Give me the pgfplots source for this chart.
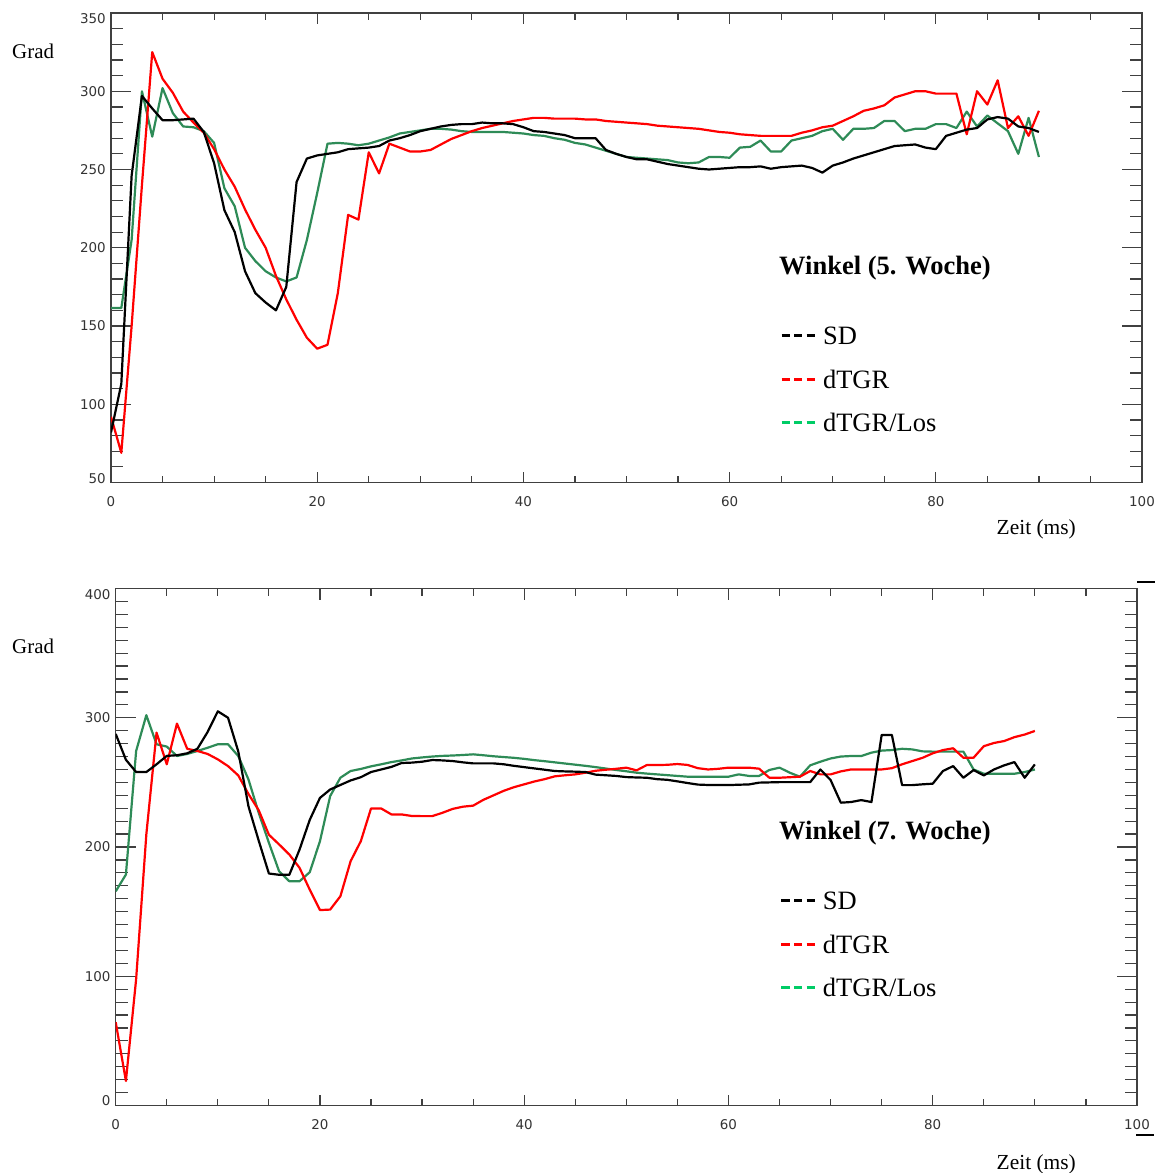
\documentclass[border=0pt]{standalone}
\usepackage{fontspec}
\setmainfont{Liberation Serif}
\newfontfamily\tickfont{DejaVu Sans}
\usepackage{pgfplots}
\usepackage{pgfplotstable}
\pgfplotsset{compat=1.18}
\definecolor{idlgreen}{RGB}{46,139,87}
\definecolor{leggreen}{RGB}{0,204,102}
\definecolor{axgray}{RGB}{64,64,64}

% Winkel (5. Woche): t (ms), SD, dTGR, dTGR/Los
\pgfplotstableread{
t sd dtgr los
0 82 92 161.5
1 113 69 161.5
2 246 150 205
3 297 240 300
4 289 325 271
5 281.5 308 302
6 281.5 299 286
7 282 287 277.5
8 282.5 280 277
9 274 273.5 274.5
10 254 263 267
11 224 250 238
12 210 239 226.5
13 185 224.5 200
14 171 211.5 191.5
15 165 200 185
16 160 182 181
17 175 167 178.5
18 242 154 181
19 257 142.5 205
20 259 135.5 235
21 260 138 266.5
22 261 171 267
23 263 221 266.5
24 263.5 218 265.5
25 264 261 266.5
26 265 247.5 268.5
27 268.5 266.5 270.5
28 270 264 273
29 272 261.5 274
30 274.5 261.5 275
31 276 262.5 276
32 277.5 266 276
33 278.5 269.5 275.5
34 279 272 274.5
35 279 274.5 274
36 280 276.5 274
37 279.5 278 274
38 279.5 279.5 274
39 279 281 273.5
40 277 282 273
41 274.5 283 272
42 274 283 271.5
43 273 282.5 270
44 272 282.5 269
45 270 282.5 267
46 270 282 266
47 270 282 264
48 262.5 281 262
49 260 280.5 260
50 258 280 258
51 256.5 279.5 257.5
52 256.5 279 257
53 255 278 256.5
54 253.5 277.5 256
55 252.5 277 254.5
56 251.5 276.5 254
57 250.5 276 254.5
58 250 275 258
59 250.5 274 258
60 251 273.5 257.5
61 251.5 272.5 264
62 251.5 272 264.5
63 252 271.5 268.5
64 250.5 271.5 261.5
65 251.5 271.5 261.5
66 252 271.5 268.5
67 252.5 273.5 270
68 251 275 271.5
69 248 277 274.5
70 252.5 278 276
71 254.5 281 269
72 257 284 276
73 259 287.5 276
74 261 289 276.5
75 263 291 281
76 265 296 281
77 265.5 298 274.5
78 266 300 276
79 264 300 276
80 263 298.5 279
81 271.5 298.5 279
82 273.5 298.5 276.5
83 275.5 272.5 287
84 276.5 300 277.5
85 282 291.5 284.5
86 283.5 307 279.5
87 282.5 276.5 274.5
88 277.5 284 260
89 276.5 271.5 283
90 274 287.5 258
}\wochefuenf

% Winkel (7. Woche): t (ms), SD, dTGR, dTGR/Los
\pgfplotstableread{
t sd dtgr los
0 287.5 64.5 165.7
1 267.5 19 178.7
2 258 97.7 274.3
3 258 209.8 302
4 264 288.5 279.5
5 270.5 264 277.7
6 271 295.5 270.4
7 272.5 276 272
8 276 274.3 274.3
9 289 272 276.8
10 305 267.8 279.5
11 300 262.6 279.5
12 274 255.4 270.4
13 231.5 241 252.3
14 205 228.5 226.5
15 179.5 209.5 203.3
16 178.5 202 181.2
17 178.5 194.2 173.5
18 198 183.9 173.5
19 221 167 180.5
20 238 151.2 204.5
21 244.5 151.6 239.4
22 248 161.9 253.6
23 251.5 189 258.8
24 254 204.5 260.4
25 258 229.8 262.4
26 260 229.8 264
27 262 225.2 265.7
28 265 225.2 267
29 265.3 224 268.5
30 266 223.9 269.3
31 267.3 223.9 270
32 267 226.5 270.5
33 266.5 229.5 270.8
34 265.5 231.2 271.2
35 264.7 232 271.7
36 264.7 236.5 271
37 264.7 240 270.2
38 264 243.5 269.6
39 262.8 246.3 269
40 261.8 248.5 268.2
41 260.8 250.7 267.2
42 259.8 252.5 266.4
43 258.8 254.7 265.5
44 258.5 255.5 264.6
45 258.3 256.2 263.7
46 258 257.5 262.8
47 256 259 261.8
48 255.5 259.8 260.7
49 255 260.5 259.6
50 254.1 261.4 258.6
51 253.8 259.3 257.5
52 253.6 263.4 256.8
53 252.5 263.4 256.2
54 252 263.6 255.6
55 250.8 264.2 255
56 249.5 263.5 254.4
57 248.3 261 254.4
58 248 260 254.4
59 248 260.5 254.4
60 247.9 261.4 254.4
61 248.2 261.4 256.2
62 248.4 261.4 255
63 249.8 260.6 255
64 250 253.6 259.6
65 250.2 253.6 261.4
66 250.2 254 257.5
67 250.2 254.4 254.4
68 250.2 258.8 263.2
69 260 256.2 266
70 251.8 256.2 268.5
71 234.3 258.5 270
72 234.8 260 270.4
73 236.3 260 270.4
74 234.8 260 273
75 286.7 260 274.6
76 286.7 261 275
77 247.9 264 276
78 247.9 266.5 275.5
79 248.5 269 274
80 249 272.5 273.8
81 258.8 275 273.8
82 262.6 276.4 273.8
83 253.6 269.1 273.8
84 259.5 269.1 260
85 255.4 278 256.7
86 260 280.5 256.7
87 263.2 282 256.7
88 265.7 285 256.7
89 253.6 287 258
90 263.9 289.8 260
}\wochesieben

\pgfplotsset{
  idlaxis/.style={
    scale only axis,
    xmin=0, xmax=100,
    xtick={0,20,...,100}, minor x tick num=3,
    axis line style={axgray, line width=1.2bp},
    tick style={axgray, line width=1.2bp},
    xtick style={/pgfplots/major tick length=11bp, /pgfplots/minor tick length=7bp},
    ytick style={/pgfplots/major tick length=20bp, /pgfplots/minor tick length=12bp},
    /pgf/number format/assume math mode=true,
    ticklabel style={font=\tickfont\fontsize{13.5}{13.5}\selectfont, text=black!80, inner sep=0pt},
    xticklabel style={anchor=north, yshift=-14bp},
    yticklabel style={anchor=base east, xshift=-5bp, yshift=-4.9bp},
    legend cell align=left,
    legend style={draw=none, fill=none, inner sep=0pt, outer sep=0pt,
      font=\fontsize{26.6}{30}\selectfont, row sep=17.5bp, column sep=5bp,
      nodes={inner sep=0pt, text height=20bp, text depth=6bp}, anchor=north west},
    legend image code/.code={\draw[##1, line width=3bp, dash pattern=on 8.3bp off 4.3bp] (0bp,2bp) -- (35bp,2bp);},
  },
  serie/.style={line width=2.2bp, line join=round, forget plot},
}

\begin{document}
\begin{tikzpicture}
\useasboundingbox (0,0) rectangle (1158bp,-1173bp);

% ---------- Winkel (5. Woche) ----------
\begin{axis}[idlaxis,
  at={(111bp,-482.5bp)}, anchor=south west,
  width=1031bp, height=469.5bp,
  ymin=50, ymax=350, ytick={50,100,...,350}, minor y tick num=4,
  yticklabels={\raisebox{3.5bp}{50},100,150,200,250,300,\raisebox{-6bp}{350}},
  legend style={at={(axis description cs:0.6489,0.336)}},
]
\addplot[serie, idlgreen] table[x=t, y=los] {\wochefuenf};
\addplot[serie, red] table[x=t, y=dtgr] {\wochefuenf};
\addplot[serie, black] table[x=t, y=sd] {\wochefuenf};
\addlegendimage{black, line width=3bp}
\addlegendentry{SD}
\addlegendimage{red, line width=3bp}
\addlegendentry{dTGR}
\addlegendimage{leggreen, line width=3bp}
\addlegendentry{dTGR/Los}
\end{axis}

% ---------- Winkel (7. Woche) ----------
\begin{axis}[idlaxis,
  at={(115.7bp,-1105.5bp)}, anchor=south west,
  width=1021.3bp, height=517bp,
  ymin=0, ymax=400, ytick={0,100,...,400}, minor y tick num=9,
  yticklabels={\raisebox{4.5bp}{0},100,200,300,\raisebox{-6.5bp}{400}},
  legend style={at={(axis description cs:0.6504,0.4172)}},
]
\addplot[serie, idlgreen] table[x=t, y=los] {\wochesieben};
\addplot[serie, red] table[x=t, y=dtgr] {\wochesieben};
\addplot[serie, black] table[x=t, y=sd] {\wochesieben};
\addlegendimage{black, line width=3bp}
\addlegendentry{SD}
\addlegendimage{red, line width=3bp}
\addlegendentry{dTGR}
\addlegendimage{leggreen, line width=3bp}
\addlegendentry{dTGR/Los}
\end{axis}

% texts
\node[anchor=base west, inner sep=0pt, font=\fontsize{21}{24}\selectfont] at (12bp,-58.5bp) {Grad};
\node[anchor=base west, inner sep=0pt, font=\fontsize{21}{24}\selectfont] at (12bp,-653.5bp) {Grad};
\node[anchor=base east, inner sep=0pt, font=\fontsize{21.5}{24}\selectfont] at (1076bp,-534bp) {Zeit (ms)};
\node[anchor=base east, inner sep=0pt, font=\fontsize{21.5}{24}\selectfont] at (1076bp,-1169bp) {Zeit (ms)};
\node[anchor=base west, inner sep=0pt, font=\bfseries\fontsize{26.6}{30}\selectfont] at (779bp,-274bp) {Winkel (5. Woche)};
\node[anchor=base west, inner sep=0pt, font=\bfseries\fontsize{26.6}{30}\selectfont] at (779bp,-839bp) {Winkel (7. Woche)};
\draw[black, line width=2bp] (1137bp,-582bp) -- (1155bp,-582bp);
\draw[black, line width=1.5bp] (1136bp,-1135bp) -- (1154bp,-1135bp);
\end{tikzpicture}
\end{document}
